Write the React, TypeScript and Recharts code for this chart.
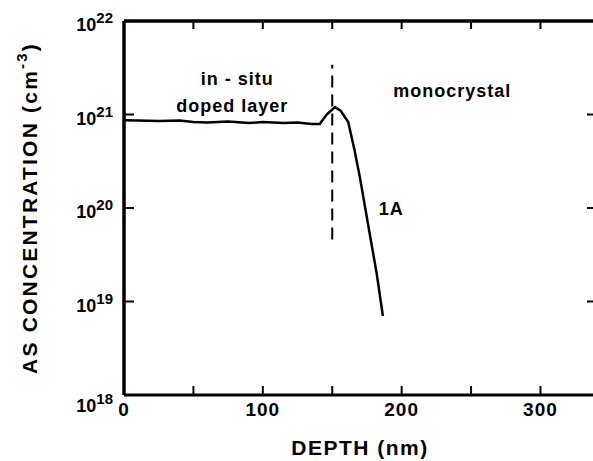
import { LineChart, Line, XAxis, YAxis, ReferenceLine, ReferenceDot } from "recharts";

// depth profile (nm) and As concentration (cm^-3)
const depth = [0, 10, 25, 40, 50, 60, 75, 90, 100, 115, 125, 135, 141, 146, 152, 156, 161.5, 166, 170, 177.4, 182, 186.5];
const concentration = [
  8.7e20, 8.6e20, 8.5e20, 8.6e20, 8.3e20, 8.2e20, 8.4e20, 8.1e20, 8.3e20, 8.1e20, 8.2e20, 7.9e20,
  7.9e20, 1.0e21, 1.2e21, 1.1e21, 8.3e20, 4.2e20, 2.1e20, 4.9e19, 2.0e19, 7.0e18,
];

const xTicks = [0, 50, 100, 150, 200, 250, 300];
const xTopTicks = [50, 100, 150, 200, 250, 300];
const xLabels = [0, 100, 200, 300];
const yTicks = [1e18, 1e19, 1e20, 1e21, 1e22];
const yInnerTicks = [1e19, 1e20, 1e21];
const xDomain = [0, 340];
const yDomain = [1e18, 1e22];

// interface between the doped layer and the substrate
const interfaceDepth = 150;
const interfaceSpan = [4.6e19, 3.4e21];

const notes = [
  { text: "in - situ", x: 81.5, y: 2.4e21 },
  { text: "doped layer", x: 78, y: 1.23e21 },
  { text: "monocrystal", x: 236.5, y: 1.78e21 },
  { text: "1A", x: 192.5, y: 9.8e19 },
];

const data = depth.map((d, i) => ({ depth: d, conc: concentration[i] }));

const FONT = '"Liberation Sans", Arial, Helvetica, sans-serif';
const INK = "#000";
const axisLine = { stroke: INK, strokeWidth: 3 };
const margin = { top: 20, right: 14, bottom: 0, left: 0 };
const segment = [
  { x: interfaceDepth, y: interfaceSpan[0] },
  { x: interfaceDepth, y: interfaceSpan[1] },
];
const noteLabels = notes.map(n => ({
  value: n.text,
  position: "center",
  fill: INK,
  fontSize: 18,
  fontWeight: 700,
  fontFamily: FONT,
  letterSpacing: 1,
}));

function LeftTick({ x, y, payload }: any) {
  const exp = Math.round(Math.log10(payload.value));
  const dy = exp === 18 ? 17 : 10;
  return (
    <text x={x} y={y + dy} textAnchor="end" fontFamily={FONT} fontWeight={700} fill={INK}>
      <tspan fontSize={18}>10</tspan>
      <tspan fontSize={15} dy={-8}>{exp}</tspan>
    </text>
  );
}

function BottomTick({ x, y, payload }: any) {
  return (
    <g>
      <line x1={x} x2={x} y1={y} y2={y - 9} stroke={INK} strokeWidth={2} />
      {xLabels.includes(payload.value) && (
        <text
          x={x}
          y={y + 21}
          textAnchor="middle"
          fontFamily={FONT}
          fontWeight={700}
          fontSize={19}
          letterSpacing={1}
          fill={INK}
        >
          {payload.value}
        </text>
      )}
    </g>
  );
}

// inward tick marks on the left and right frame sides
function SideTicks({ x1, x2, y1 }: any) {
  const l = Math.min(x1, x2);
  const r = Math.max(x1, x2);
  return (
    <g>
      <line x1={l} x2={l + 10} y1={y1} y2={y1} stroke={INK} strokeWidth={2} />
      <line x1={r - 9} x2={r} y1={y1} y2={y1} stroke={INK} strokeWidth={2} />
    </g>
  );
}

// inward tick marks on the top frame side
function TopTickMark({ x1, y1, y2 }: any) {
  const t = Math.min(y1, y2);
  return <line x1={x1} x2={x1} y1={t} y2={t + 8} stroke={INK} strokeWidth={2} />;
}

function XTitle({ viewBox }: any) {
  return (
    <text
      x={viewBox.x + viewBox.width / 2}
      y={viewBox.y + 60}
      textAnchor="middle"
      fontFamily={FONT}
      fontWeight={700}
      fontSize={21}
      letterSpacing={1.5}
      fill={INK}
    >
      DEPTH (nm)
    </text>
  );
}

function YTitle() {
  return (
    <text
      transform="translate(29, 208) rotate(-90)"
      textAnchor="middle"
      dominantBaseline="central"
      fontFamily={FONT}
      fontWeight={700}
      fontSize={21}
      letterSpacing={2.2}
      fill={INK}
    >
      <tspan>AS CONCENTRATION (cm</tspan>
      <tspan fontSize={15} dy={-8}>-3</tspan>
      <tspan dy={8}>)</tspan>
    </text>
  );
}

export default function App() {
  return (
    <div
      style={{
        position: "absolute",
        left: 0,
        top: 0,
        width: 593,
        height: 461,
        overflow: "hidden",
        background: "#fff",
      }}
    >
      <LineChart width={610} height={461} data={data} margin={margin}>
        <XAxis
          dataKey="depth"
          type="number"
          domain={xDomain}
          ticks={xTicks}
          interval={0}
          height={66}
          axisLine={axisLine}
          tickLine={false}
          tickSize={0}
          tickMargin={0}
          tick={<BottomTick />}
          label={<XTitle />}
        />
        <XAxis
          xAxisId="top"
          orientation="top"
          dataKey="depth"
          type="number"
          domain={xDomain}
          ticks={xTopTicks}
          height={1}
          tick={false}
          axisLine={axisLine}
        />
        <YAxis
          type="number"
          scale="log"
          domain={yDomain}
          ticks={yTicks}
          interval={0}
          allowDataOverflow
          width={124}
          axisLine={axisLine}
          tickLine={false}
          tickMargin={5}
          tick={<LeftTick />}
          label={<YTitle />}
        />
        <ReferenceLine x={xDomain[0]} stroke={INK} strokeWidth={3} ifOverflow="visible" />
        <ReferenceLine y={yDomain[1]} stroke={INK} strokeWidth={3} ifOverflow="visible" />
        {yInnerTicks.map(v => (
          <ReferenceLine key={`y-${v}`} y={v} ifOverflow="visible" shape={SideTicks} />
        ))}
        {xTopTicks.map(v => (
          <ReferenceLine key={`x-${v}`} x={v} ifOverflow="visible" shape={TopTickMark} />
        ))}
        <ReferenceLine segment={segment} stroke={INK} strokeWidth={2} strokeDasharray="12 7" />
        {notes.map((n, i) => (
          <ReferenceDot
            key={n.text}
            x={n.x}
            y={n.y}
            r={0}
            fill="none"
            stroke="none"
            label={noteLabels[i]}
          />
        ))}
        <Line
          dataKey="conc"
          type="linear"
          stroke={INK}
          strokeWidth={2.5}
          dot={false}
          isAnimationActive={false}
        />
      </LineChart>
    </div>
  );
}
